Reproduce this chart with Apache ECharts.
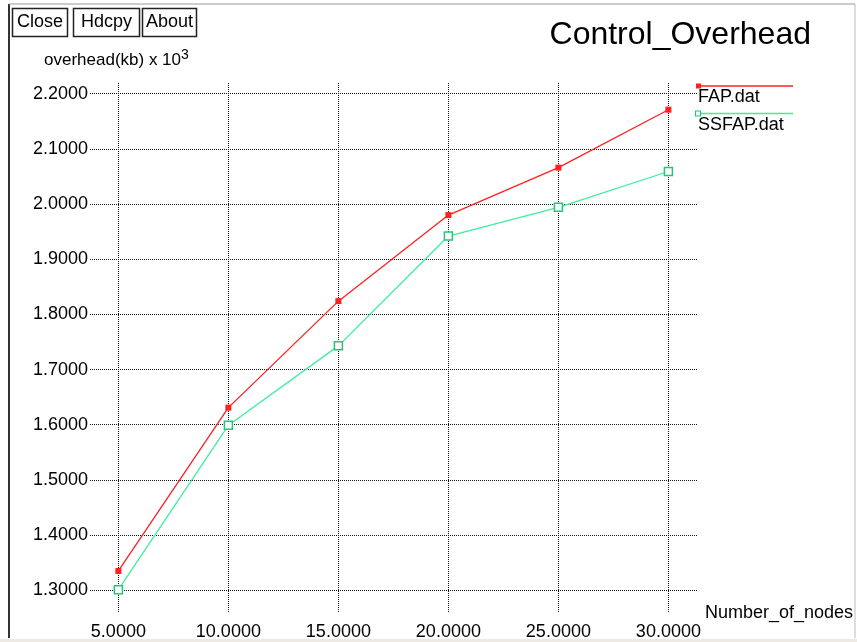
<!DOCTYPE html>
<html lang="en">
<head>
    <meta charset="utf-8">
    <title>Control_Overhead</title>
    <script src="https://cdn.jsdelivr.net/npm/echarts@6.0.0/dist/echarts.min.js"></script>
    <style>
        html, body { margin: 0; padding: 0; background: #fff; }
        #chart { width: 857px; height: 642px; }
    </style>
</head>
<body>
    <div id="chart"></div>
    <script>
        // data
        const nodes = [5, 10, 15, 20, 25, 30];
        const fap = [1.335, 1.631, 1.824, 1.980, 2.066, 2.171];
        const ssfap = [1.301, 1.599, 1.743, 1.942, 1.994, 2.059];
        const xTicks = [5, 10, 15, 20, 25, 30];
        const yTicks = [1.3, 1.4, 1.5, 1.6, 1.7, 1.8, 1.9, 2.0, 2.1, 2.2];

        const font = 'Liberation Sans, Arial, sans-serif';
        const red = '#ff2020';
        const green = '#3cf09a';
        const greenMark = '#1fc878';

        const chart = echarts.init(document.getElementById('chart'));

        const gridLine = { show: true, lineStyle: { color: '#111', width: 1, type: [1, 1] } };

        chart.setOption({
            animation: false,
            backgroundColor: '#fff',
            title: {
                text: 'Control_Overhead',
                right: 41,
                top: 14,
                textStyle: { fontFamily: font, fontSize: 32, fontWeight: 'normal', color: '#000' }
            },
            grid: { left: 90, right: 160, top: 83, bottom: 29 },
            xAxis: {
                type: 'value',
                min: 3.71,
                max: 31.3,
                name: 'Number_of_nodes',
                nameLocation: 'end',
                nameGap: 8,
                nameTextStyle: { fontFamily: font, fontSize: 18, color: '#000', padding: [0, 0, 6, 0] },
                axisLine: { show: false },
                axisTick: { show: false, customValues: xTicks },
                axisLabel: {
                    customValues: xTicks,
                    margin: 10,
                    fontFamily: font, fontSize: 18, color: '#000',
                    formatter: v => v.toFixed(4)
                },
                splitLine: gridLine
            },
            yAxis: {
                type: 'value',
                min: 1.2588,
                max: 2.2194,
                axisLine: { show: false },
                axisTick: { show: false, customValues: yTicks },
                axisLabel: {
                    customValues: yTicks,
                    margin: 2,
                    fontFamily: font, fontSize: 18, color: '#000',
                    formatter: v => v.toFixed(4)
                },
                splitLine: gridLine
            },
            series: [
                {
                    name: 'FAP.dat',
                    type: 'line',
                    data: nodes.map((x, i) => [x, fap[i]]),
                    symbol: 'rect',
                    symbolSize: 6,
                    lineStyle: { color: red, width: 1.3 },
                    itemStyle: { color: red }
                },
                {
                    name: 'SSFAP.dat',
                    type: 'line',
                    data: nodes.map((x, i) => [x, ssfap[i]]),
                    symbol: 'rect',
                    symbolSize: 8,
                    lineStyle: { color: green, width: 1.3 },
                    itemStyle: { color: '#fff', borderColor: greenMark, borderWidth: 1.5 }
                }
            ],
            graphic: [
                // window frame
                { type: 'line', shape: { x1: 9, y1: 4, x2: 9, y2: 638 }, style: { stroke: '#333', lineWidth: 2 } },
                { type: 'line', shape: { x1: 9, y1: 4, x2: 855, y2: 4 }, style: { stroke: '#999', lineWidth: 1 } },
                { type: 'line', shape: { x1: 855, y1: 4, x2: 855, y2: 638 }, style: { stroke: '#bbb', lineWidth: 1 } },
                { type: 'rect', shape: { x: 0, y: 639, width: 857, height: 3 }, style: { fill: '#eee9e2' } },
                // buttons
                { type: 'rect', shape: { x: 12.5, y: 8.5, width: 55, height: 28 }, style: { fill: '#fff', stroke: '#222', lineWidth: 1.5 } },
                { type: 'text', x: 40, y: 22.5, style: { text: 'Close', font: '18px ' + font, fill: '#000', align: 'center', verticalAlign: 'middle' } },
                { type: 'rect', shape: { x: 73.5, y: 8.5, width: 66, height: 28 }, style: { fill: '#fff', stroke: '#222', lineWidth: 1.5 } },
                { type: 'text', x: 106.5, y: 22.5, style: { text: 'Hdcpy', font: '18px ' + font, fill: '#000', align: 'center', verticalAlign: 'middle' } },
                { type: 'rect', shape: { x: 142.5, y: 8.5, width: 54, height: 28 }, style: { fill: '#fff', stroke: '#222', lineWidth: 1.5 } },
                { type: 'text', x: 169.5, y: 22.5, style: { text: 'About', font: '18px ' + font, fill: '#000', align: 'center', verticalAlign: 'middle' } },
                // y axis title with superscript
                {
                    type: 'text', x: 44, y: 60,
                    style: {
                        text: '{a|overhead(kb) x 10}{s|3}',
                        verticalAlign: 'middle',
                        rich: {
                            a: { font: '17px ' + font, fill: '#000' },
                            s: { font: '14px ' + font, fill: '#000', padding: [0, 0, 9, 0] }
                        }
                    }
                },
                // legend
                { type: 'line', shape: { x1: 697, y1: 86, x2: 793, y2: 86 }, style: { stroke: red, lineWidth: 1.3 } },
                { type: 'rect', shape: { x: 696, y: 83.5, width: 5, height: 5 }, style: { fill: red } },
                { type: 'text', x: 698, y: 97, style: { text: 'FAP.dat', font: '18px ' + font, fill: '#000', verticalAlign: 'middle' } },
                { type: 'line', shape: { x1: 697, y1: 113.5, x2: 793, y2: 113.5 }, style: { stroke: green, lineWidth: 1.3 } },
                { type: 'rect', shape: { x: 695.5, y: 111, width: 5, height: 5 }, style: { fill: '#fff', stroke: greenMark, lineWidth: 1.2 } },
                { type: 'text', x: 698, y: 125, style: { text: 'SSFAP.dat', font: '18px ' + font, fill: '#000', verticalAlign: 'middle' } }
            ]
        });

        window.addEventListener('resize', () => chart.resize());
    </script>
</body>
</html>
